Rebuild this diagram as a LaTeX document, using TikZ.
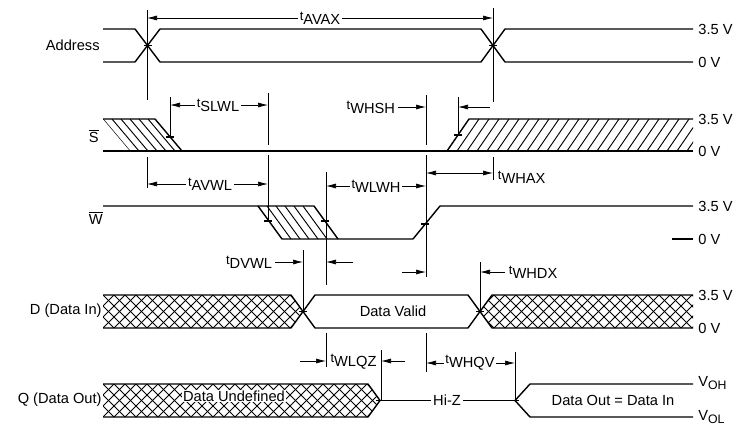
\documentclass[tikz,border=0pt]{standalone}
\usepackage{fontspec}
\setmainfont{Liberation Sans}
\usetikzlibrary{arrows.meta}
\newcommand{\tsub}[1]{{\fontsize{11pt}{12pt}\selectfont t}\raisebox{-0.5ex}{#1}}
\newcommand{\vsub}[1]{V\raisebox{-0.5ex}{\fontsize{10.5pt}{12pt}\selectfont #1}}
\newcommand{\edgetick}[2]{\draw[sig] (#1-4,#2) -- (#1+4,#2);}
\tikzset{
  sig/.style={line width=1.2pt,line join=round},
  hatchln/.style={line width=0.8pt},
  vref/.style={line width=0.6pt},
  dim/.style={{Latex[length=3mm,width=1.5mm]}-{Latex[length=3mm,width=1.5mm]},line width=0.6pt},
  dimto/.style={-{Latex[length=3mm,width=1.5mm]},line width=0.6pt},
  tlabel/.style={fill=white,inner sep=1.5pt},
  lvl/.style={anchor=west,inner sep=1pt},
  sname/.style={anchor=east,inner sep=1pt},
}

\begin{document}
\begin{tikzpicture}[x=0.3mm,y=-0.3mm,every node/.style={font=\fontsize{12.5pt}{14pt}\selectfont}]
  \useasboundingbox (0,0) rectangle (741,428);

  % Address
  \draw[sig] (103,29)--(135,29)--(160,62)--(481,62)--(505,29)--(693,29);
  \draw[sig] (103,62)--(135,62)--(160,29)--(481,29)--(505,62)--(693,62);
  \edgetick{147.5}{45.5}
  \edgetick{493}{45.5}
  \node[sname] (addr) at (101,45) {Address};
  \node[lvl] (addrhi) at (697,29) {3.5 V};
  \node[lvl] (addrlo) at (697,62) {0 V};

  % S
  \begin{scope}
    \clip (103,119)--(155,119)--(182,151)--(130,151)--cycle;
    \foreach \i in {103,112,...,150} \draw[hatchln] (\i,119) -- ++(27,32);
  \end{scope}
  \draw[sig] (103,119)--(155,119)--(182,151);
  \draw[sig] (103,151)--(693,151);
  \begin{scope}
    \clip (447,151)--(469,119)--(693,119)--(693,151)--cycle;
    \foreach \i in {457,467,...,700} \draw[hatchln] (\i,151) -- ++(22,-32);
  \end{scope}
  \draw[sig] (447,151)--(469,119)--(693,119);
  \edgetick{170}{137}
  \edgetick{458}{135}
  \node[sname] (sel) at (100,136) {$\overline{\mbox{S}}$};
  \node[lvl] (selhi) at (697,119) {3.5 V};
  \node[lvl] (sello) at (697,151) {0 V};

  % W
  \begin{scope}
    \clip (258,206)--(314,206)--(338,239)--(282,239)--cycle;
    \foreach \i in {267,276,...,310} \draw[hatchln] (\i,206) -- ++(24,33);
  \end{scope}
  \draw[sig] (103,206)--(314,206)--(338,239);
  \draw[sig] (258,206)--(282,239)--(413,239)--(440,206)--(693,206);
  \edgetick{268}{221}
  \edgetick{325}{221}
  \edgetick{425}{224}
  \node[sname] (wr) at (104,218) {$\overline{\mbox{W}}$};
  \node[lvl] (wrhi) at (697,206) {3.5 V};
  \draw[sig] (672,239)--(693,239);
  \node[lvl] (wrlo) at (697,239) {0 V};

  % D
  \begin{scope}
    \clip (103,295)--(291,295)--(303,311.5)--(291,328)--(103,328)--cycle;
    \foreach \i in {70,81,...,310} {
      \draw[hatchln] (\i,295) -- ++(33,33);
      \draw[hatchln] (\i,328) -- ++(33,-33);
    }
  \end{scope}
  \begin{scope}
    \clip (480,311.5)--(492,295)--(693,295)--(693,328)--(492,328)--cycle;
    \foreach \i in {450,461,...,700} {
      \draw[hatchln] (\i,295) -- ++(33,33);
      \draw[hatchln] (\i,328) -- ++(33,-33);
    }
  \end{scope}
  \draw[sig] (103,295)--(291,295)--(315,328)--(468,328)--(492,295)--(693,295);
  \draw[sig] (103,328)--(291,328)--(315,295)--(468,295)--(492,328)--(693,328);
  \edgetick{303}{311.5}
  \edgetick{480}{311.5}
  \node (dvalid) at (393,311) {Data Valid};
  \node[sname] (din) at (103,311) {D (Data In)};
  \node[lvl] (dinhi) at (697,295) {3.5 V};
  \node[lvl] (dinlo) at (697,328) {0 V};

  % Q
  \begin{scope}
    \clip (103,384)--(368,384)--(380,400.5)--(368,417)--(103,417)--cycle;
    \foreach \i in {70,81,...,390} {
      \draw[hatchln] (\i,384) -- ++(33,33);
      \draw[hatchln] (\i,417) -- ++(33,-33);
    }
  \end{scope}
  \draw[sig] (103,384)--(368,384)--(380,400.5)--(368,417)--(103,417);
  \draw[sig] (693,384)--(530,384)--(515,400.5)--(530,417)--(693,417);
  \draw[sig] (380,400.5)--(515,400.5);
  \edgetick{380}{400.5}
  \edgetick{515}{400.5}
  \node[fill=white,inner xsep=1pt,inner ysep=0.5pt] (undef) at (234,396) {Data Undefined};
  \node[tlabel] (hiz) at (447,400) {Hi-Z};
  \node (dout) at (613,400) {Data Out = Data In};
  \node[sname] (qout) at (103,400) {Q (Data Out)};
  \node[lvl] (qouthi) at (697,383) {\vsub{OH}};
  \node[lvl] (qoutlo) at (697,417) {\vsub{OL}};

  % reference lines
  \draw[vref] (147,10)--(147,100) (147,157)--(147,188);
  \draw[vref] (493,8)--(493,102) (493,157)--(493,180);
  \draw[vref] (170,97)--(170,137);
  \draw[vref] (268,93)--(268,145) (268,155)--(268,221);
  \draw[vref] (458,97)--(458,135);
  \draw[vref] (426,95)--(426,145) (426,155)--(426,277) (426,333)--(426,372);
  \draw[vref] (326,172)--(326,285) (326,333)--(326,367);
  \draw[vref] (303,250)--(303,311.5);
  \draw[vref] (480,262)--(480,311.5);
  \draw[vref] (381,350)--(381,400.5);
  \draw[vref] (515,352)--(515,400.5);

  % timing arrows
  \draw[dim] (147,18)--(493,18);
  \node[tlabel] (tavax) at (320,18) {\tsub{AVAX}};
  \draw[dim] (170,105)--(268,105);
  \node[tlabel] (tslwl) at (218,105) {\tsub{SLWL}};
  \draw[dimto] (398,107)--(426,107);
  \draw[dimto] (490,107)--(458,107);
  \node[anchor=east,inner sep=1.5pt] (twhsh) at (397,107) {\tsub{WHSH}};
  \draw[dim] (147,184)--(268,184);
  \node[tlabel] (tavwl) at (210,184) {\tsub{AVWL}};
  \draw[dim] (326,186)--(426,186);
  \node[tlabel] (twlwh) at (376,186) {\tsub{WLWH}};
  \draw[dim] (426,173)--(493,173);
  \node[anchor=west,inner sep=1.5pt] (twhax) at (496,177) {\tsub{WHAX}};
  \draw[dimto] (275,262)--(303,262);
  \draw[dimto] (353,262)--(326,262);
  \node[anchor=east,inner sep=1.5pt] (tdvwl) at (274,262) {\tsub{DVWL}};
  \draw[dimto] (402,272)--(426,272);
  \draw[dimto] (505,272)--(480,272);
  \node[anchor=west,inner sep=1.5pt] (twhdx) at (507,272) {\tsub{WHDX}};
  \draw[dimto] (300,361)--(326,361);
  \draw[dimto] (405,361)--(381,361);
  \node[inner sep=0.5pt] (twlqz) at (353.5,362) {\tsub{WLQZ}};
  \draw[dim] (426,363)--(515,363);
  \node[tlabel] (twhqv) at (470,363) {\tsub{WHQV}};
\end{tikzpicture}
\end{document}
